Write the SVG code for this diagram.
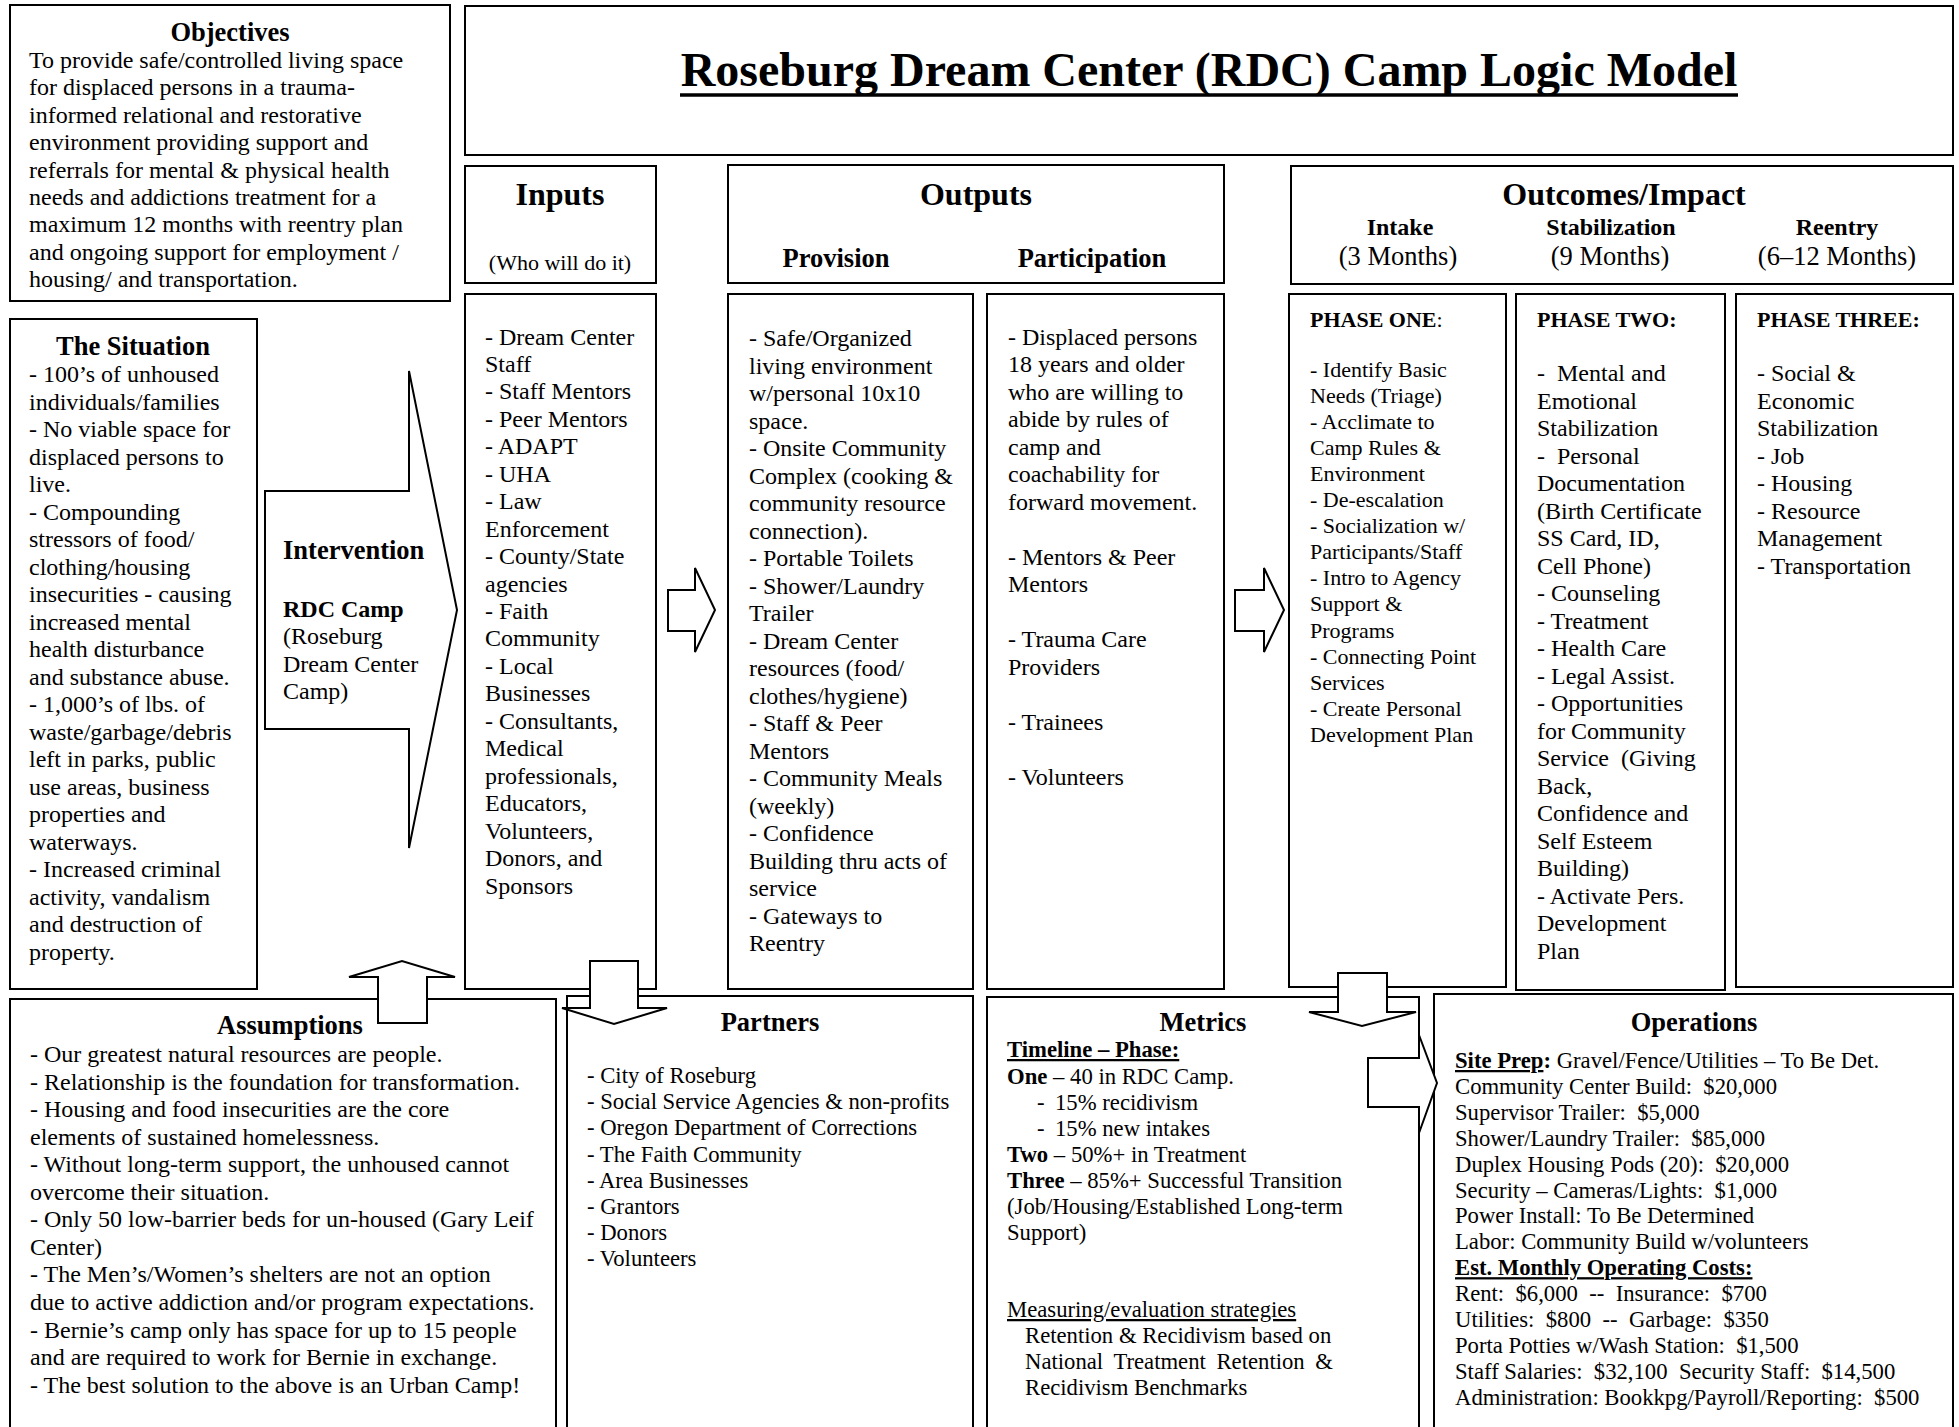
<svg xmlns="http://www.w3.org/2000/svg" width="1959" height="1427" viewBox="0 0 1959 1427">
<style>
.box{fill:#fff;stroke:#000;stroke-width:2}
.arr{fill:#fff;stroke:#000;stroke-width:2;stroke-linejoin:miter}
text{font-family:'Liberation Serif','Times New Roman',serif;font-size:24px;fill:#000}
.b{font-weight:bold}
.h{font-weight:bold;font-size:26.5px;text-anchor:middle}
.hh{font-weight:bold;font-size:32px;text-anchor:middle}
.s22{font-size:22px}
.s23{font-size:22.7px}
.m{text-anchor:middle}
.u{text-decoration:underline}
</style>
<rect width="1959" height="1427" fill="#fff"/>

<g id="objectives">
<rect class="box" x="10" y="5" width="440" height="296"/>
<text class="h" x="230" y="41">Objectives</text>
<text y="68"><tspan x="29">To provide safe/controlled living space</tspan><tspan x="29" dy="27.4">for displaced persons in a trauma-</tspan><tspan x="29" dy="27.4">informed relational and restorative</tspan><tspan x="29" dy="27.4">environment providing support and</tspan><tspan x="29" dy="27.4">referrals for mental &amp; physical health</tspan><tspan x="29" dy="27.4">needs and addictions treatment for a</tspan><tspan x="29" dy="27.4">maximum 12 months with reentry plan</tspan><tspan x="29" dy="27.4">and ongoing support for employment /</tspan><tspan x="29" dy="27.4">housing/ and transportation.</tspan></text>
</g>

<g id="title">
<rect class="box" x="465" y="6" width="1488" height="149"/>
<text class="b m" x="1209" y="86" style="font-size:48px">Roseburg Dream Center (RDC) Camp Logic Model</text>
<line x1="680" y1="95" x2="1738" y2="95" stroke="#000" stroke-width="3.5"/>
</g>

<g id="inputs-header">
<rect class="box" x="465" y="166" width="191" height="117"/>
<text class="hh" x="560" y="205">Inputs</text>
<text class="m s22" x="560" y="270">(Who will do it)</text>
</g>

<g id="outputs-header">
<rect class="box" x="728" y="165" width="496" height="118"/>
<text class="hh" x="976" y="205">Outputs</text>
<text class="h" x="836" y="267">Provision</text>
<text class="h" x="1092" y="267">Participation</text>
</g>

<g id="outcomes-header">
<rect class="box" x="1291" y="166" width="662" height="118"/>
<text class="hh" x="1624" y="205">Outcomes/Impact</text>
<text class="b m" x="1400" y="235">Intake</text>
<text class="b m" x="1611" y="235">Stabilization</text>
<text class="b m" x="1837" y="235">Reentry</text>
<text class="m" x="1398" y="265" style="font-size:26.5px">(3 Months)</text>
<text class="m" x="1610" y="265" style="font-size:26.5px">(9 Months)</text>
<text class="m" x="1837" y="265" style="font-size:26.5px">(6–12 Months)</text>
</g>

<g id="situation">
<rect class="box" x="10" y="319" width="247" height="670"/>
<text class="h" x="133" y="355">The Situation</text>
<text y="382"><tspan x="29">- 100’s of unhoused</tspan><tspan x="29" dy="27.5">individuals/families</tspan><tspan x="29" dy="27.5">- No viable space for</tspan><tspan x="29" dy="27.5">displaced persons to</tspan><tspan x="29" dy="27.5">live.</tspan><tspan x="29" dy="27.5">- Compounding</tspan><tspan x="29" dy="27.5">stressors of food/</tspan><tspan x="29" dy="27.5">clothing/housing</tspan><tspan x="29" dy="27.5">insecurities - causing</tspan><tspan x="29" dy="27.5">increased mental</tspan><tspan x="29" dy="27.5">health disturbance</tspan><tspan x="29" dy="27.5">and substance abuse.</tspan><tspan x="29" dy="27.5">- 1,000’s of lbs. of</tspan><tspan x="29" dy="27.5">waste/garbage/debris</tspan><tspan x="29" dy="27.5">left in parks, public</tspan><tspan x="29" dy="27.5">use areas, business</tspan><tspan x="29" dy="27.5">properties and</tspan><tspan x="29" dy="27.5">waterways.</tspan><tspan x="29" dy="27.5">- Increased criminal</tspan><tspan x="29" dy="27.5">activity, vandalism</tspan><tspan x="29" dy="27.5">and destruction of</tspan><tspan x="29" dy="27.5">property.</tspan></text>
</g>

<g id="inputs">
<rect class="box" x="465" y="294" width="191" height="695"/>
<text y="344.5"><tspan x="485">- Dream Center</tspan><tspan x="485" dy="27.45">Staff</tspan><tspan x="485" dy="27.45">- Staff Mentors</tspan><tspan x="485" dy="27.45">- Peer Mentors</tspan><tspan x="485" dy="27.45">- ADAPT</tspan><tspan x="485" dy="27.45">- UHA</tspan><tspan x="485" dy="27.45">- Law</tspan><tspan x="485" dy="27.45">Enforcement</tspan><tspan x="485" dy="27.45">- County/State</tspan><tspan x="485" dy="27.45">agencies</tspan><tspan x="485" dy="27.45">- Faith</tspan><tspan x="485" dy="27.45">Community</tspan><tspan x="485" dy="27.45">- Local</tspan><tspan x="485" dy="27.45">Businesses</tspan><tspan x="485" dy="27.45">- Consultants,</tspan><tspan x="485" dy="27.45">Medical</tspan><tspan x="485" dy="27.45">professionals,</tspan><tspan x="485" dy="27.45">Educators,</tspan><tspan x="485" dy="27.45">Volunteers,</tspan><tspan x="485" dy="27.45">Donors, and</tspan><tspan x="485" dy="27.45">Sponsors</tspan></text>
</g>

<g id="provision">
<rect class="box" x="728" y="294" width="245" height="695"/>
<text y="346"><tspan x="749">- Safe/Organized</tspan><tspan x="749" dy="27.5">living environment</tspan><tspan x="749" dy="27.5">w/personal 10x10</tspan><tspan x="749" dy="27.5">space.</tspan><tspan x="749" dy="27.5">- Onsite Community</tspan><tspan x="749" dy="27.5">Complex (cooking &amp;</tspan><tspan x="749" dy="27.5">community resource</tspan><tspan x="749" dy="27.5">connection).</tspan><tspan x="749" dy="27.5">- Portable Toilets</tspan><tspan x="749" dy="27.5">- Shower/Laundry</tspan><tspan x="749" dy="27.5">Trailer</tspan><tspan x="749" dy="27.5">- Dream Center</tspan><tspan x="749" dy="27.5">resources (food/</tspan><tspan x="749" dy="27.5">clothes/hygiene)</tspan><tspan x="749" dy="27.5">- Staff &amp; Peer</tspan><tspan x="749" dy="27.5">Mentors</tspan><tspan x="749" dy="27.5">- Community Meals</tspan><tspan x="749" dy="27.5">(weekly)</tspan><tspan x="749" dy="27.5">- Confidence</tspan><tspan x="749" dy="27.5">Building thru acts of</tspan><tspan x="749" dy="27.5">service</tspan><tspan x="749" dy="27.5">- Gateways to</tspan><tspan x="749" dy="27.5">Reentry</tspan></text>
</g>

<g id="participation">
<rect class="box" x="987" y="294" width="237" height="695"/>
<text y="344.5"><tspan x="1008">- Displaced persons</tspan><tspan x="1008" dy="27.5">18 years and older</tspan><tspan x="1008" dy="27.5">who are willing to</tspan><tspan x="1008" dy="27.5">abide by rules of</tspan><tspan x="1008" dy="27.5">camp and</tspan><tspan x="1008" dy="27.5">coachability for</tspan><tspan x="1008" dy="27.5">forward movement.</tspan><tspan x="1008" dy="55">- Mentors &amp; Peer</tspan><tspan x="1008" dy="27.5">Mentors</tspan><tspan x="1008" dy="55">- Trauma Care</tspan><tspan x="1008" dy="27.5">Providers</tspan><tspan x="1008" dy="55">- Trainees</tspan><tspan x="1008" dy="55">- Volunteers</tspan></text>
</g>

<g id="phase-one">
<rect class="box" x="1289" y="294" width="217" height="693"/>
<text class="b s22" x="1310" y="326.5">PHASE ONE<tspan style="font-weight:normal">:</tspan></text>
<text class="s22" y="377"><tspan x="1310">- Identify Basic</tspan><tspan x="1310" dy="26.05">Needs (Triage)</tspan><tspan x="1310" dy="26.05">- Acclimate to</tspan><tspan x="1310" dy="26.05">Camp Rules &amp;</tspan><tspan x="1310" dy="26.05">Environment</tspan><tspan x="1310" dy="26.05">- De-escalation</tspan><tspan x="1310" dy="26.05">- Socialization w/</tspan><tspan x="1310" dy="26.05">Participants/Staff</tspan><tspan x="1310" dy="26.05">- Intro to Agency</tspan><tspan x="1310" dy="26.05">Support &amp;</tspan><tspan x="1310" dy="26.05">Programs</tspan><tspan x="1310" dy="26.05">- Connecting Point</tspan><tspan x="1310" dy="26.05">Services</tspan><tspan x="1310" dy="26.05">- Create Personal</tspan><tspan x="1310" dy="26.05">Development Plan</tspan></text>
</g>

<g id="phase-two">
<rect class="box" x="1516" y="294" width="209" height="696"/>
<text class="b s22" x="1537" y="326.5">PHASE TWO:</text>
<text y="381" xml:space="preserve"><tspan x="1537">-  Mental and</tspan><tspan x="1537" dy="27.5">Emotional</tspan><tspan x="1537" dy="27.5">Stabilization</tspan><tspan x="1537" dy="27.5">-  Personal</tspan><tspan x="1537" dy="27.5">Documentation</tspan><tspan x="1537" dy="27.5">(Birth Certificate</tspan><tspan x="1537" dy="27.5">SS Card, ID,</tspan><tspan x="1537" dy="27.5">Cell Phone)</tspan><tspan x="1537" dy="27.5">- Counseling</tspan><tspan x="1537" dy="27.5">- Treatment</tspan><tspan x="1537" dy="27.5">- Health Care</tspan><tspan x="1537" dy="27.5">- Legal Assist.</tspan><tspan x="1537" dy="27.5">- Opportunities</tspan><tspan x="1537" dy="27.5">for Community</tspan><tspan x="1537" dy="27.5">Service  (Giving</tspan><tspan x="1537" dy="27.5">Back,</tspan><tspan x="1537" dy="27.5">Confidence and</tspan><tspan x="1537" dy="27.5">Self Esteem</tspan><tspan x="1537" dy="27.5">Building)</tspan><tspan x="1537" dy="27.5">- Activate Pers.</tspan><tspan x="1537" dy="27.5">Development</tspan><tspan x="1537" dy="27.5">Plan</tspan></text>
</g>

<g id="phase-three">
<rect class="box" x="1736" y="294" width="217" height="693"/>
<text class="b s22" x="1757" y="326.5">PHASE THREE:</text>
<text y="381"><tspan x="1757">- Social &amp;</tspan><tspan x="1757" dy="27.5">Economic</tspan><tspan x="1757" dy="27.5">Stabilization</tspan><tspan x="1757" dy="27.5">- Job</tspan><tspan x="1757" dy="27.5">- Housing</tspan><tspan x="1757" dy="27.5">- Resource</tspan><tspan x="1757" dy="27.5">Management</tspan><tspan x="1757" dy="27.5">- Transportation</tspan></text>
</g>

<g id="assumptions">
<rect class="box" x="10" y="999" width="546" height="450"/>
<text class="h" x="290" y="1034">Assumptions</text>
<text y="1062"><tspan x="30">- Our greatest natural resources are people.</tspan><tspan x="30" dy="27.55">- Relationship is the foundation for transformation.</tspan><tspan x="30" dy="27.55">- Housing and food insecurities are the core</tspan><tspan x="30" dy="27.55">elements of sustained homelessness.</tspan><tspan x="30" dy="27.55">- Without long-term support, the unhoused cannot</tspan><tspan x="30" dy="27.55">overcome their situation.</tspan><tspan x="30" dy="27.55">- Only 50 low-barrier beds for un-housed (Gary Leif</tspan><tspan x="30" dy="27.55">Center)</tspan><tspan x="30" dy="27.55">- The Men’s/Women’s shelters are not an option</tspan><tspan x="30" dy="27.55">due to active addiction and/or program expectations.</tspan><tspan x="30" dy="27.55">- Bernie’s camp only has space for up to 15 people</tspan><tspan x="30" dy="27.55">and are required to work for Bernie in exchange.</tspan><tspan x="30" dy="27.55">- The best solution to the above is an Urban Camp!</tspan></text>
</g>

<g id="partners">
<rect class="box" x="567" y="996" width="406" height="450"/>
<text class="h" x="770" y="1031">Partners</text>
<text class="s23" y="1083"><tspan x="587">- City of Roseburg</tspan><tspan x="587" dy="26.2">- Social Service Agencies &amp; non-profits</tspan><tspan x="587" dy="26.2">- Oregon Department of Corrections</tspan><tspan x="587" dy="26.2">- The Faith Community</tspan><tspan x="587" dy="26.2">- Area Businesses</tspan><tspan x="587" dy="26.2">- Grantors</tspan><tspan x="587" dy="26.2">- Donors</tspan><tspan x="587" dy="26.2">- Volunteers</tspan></text>
</g>

<g id="metrics">
<rect class="box" x="987" y="997" width="432" height="450"/>
<text class="h" x="1203" y="1031">Metrics</text>
<text class="s23 b u" x="1007" y="1057">Timeline – Phase:</text>
<text class="s23" x="1007" y="1084"><tspan class="b">One</tspan> – 40 in RDC Camp.</text>
<text class="s23" x="1037" y="1110">-</text>
<text class="s23" x="1055" y="1110">15% recidivism</text>
<text class="s23" x="1037" y="1136">-</text>
<text class="s23" x="1055" y="1136">15% new intakes</text>
<text class="s23" x="1007" y="1162"><tspan class="b">Two</tspan> – 50%+ in Treatment</text>
<text class="s23" x="1007" y="1188"><tspan class="b">Three</tspan> – 85%+ Successful Transition</text>
<text class="s23" x="1007" y="1214">(Job/Housing/Established Long-term</text>
<text class="s23" x="1007" y="1240">Support)</text>
<text class="s23 u" x="1007" y="1317">Measuring/evaluation strategies</text>
<text class="s23" x="1025" y="1343">Retention &amp; Recidivism based on</text>
<text class="s23" x="1025" y="1369" style="word-spacing:5px">National Treatment Retention &amp;</text>
<text class="s23" x="1025" y="1395">Recidivism Benchmarks</text>
</g>

<g id="operations">
<rect class="box" x="1434" y="994" width="519" height="450"/>
<text class="h" x="1694" y="1031">Operations</text>
<text class="s23" y="1068" xml:space="preserve"><tspan x="1455"><tspan class="b u">Site Prep</tspan><tspan class="b">:</tspan> Gravel/Fence/Utilities – To Be Det.</tspan><tspan x="1455" dy="25.9">Community Center Build:  $20,000</tspan><tspan x="1455" dy="25.9">Supervisor Trailer:  $5,000</tspan><tspan x="1455" dy="25.9">Shower/Laundry Trailer:  $85,000</tspan><tspan x="1455" dy="25.9">Duplex Housing Pods (20):  $20,000</tspan><tspan x="1455" dy="25.9">Security – Cameras/Lights:  $1,000</tspan><tspan x="1455" dy="25.9">Power Install: To Be Determined</tspan><tspan x="1455" dy="25.9">Labor: Community Build w/volunteers</tspan><tspan x="1455" dy="25.9" class="b u">Est. Monthly Operating Costs:</tspan><tspan x="1455" dy="25.9">Rent:  $6,000  --  Insurance:  $700</tspan><tspan x="1455" dy="25.9">Utilities:  $800  --  Garbage:  $350</tspan><tspan x="1455" dy="25.9">Porta Potties w/Wash Station:  $1,500</tspan><tspan x="1455" dy="25.9">Staff Salaries:  $32,100  Security Staff:  $14,500</tspan><tspan x="1455" dy="25.9">Administration: Bookkpg/Payroll/Reporting:  $500</tspan></text>
</g>

<g id="connectors">
<polygon id="intervention-arrow" class="arr" points="265,491 409,491 409,371 457,610 409,848 409,729 265,729"/>
<polygon class="arr" points="668,590 695,590 695,568 715,610 695,652 695,631 668,631"/>
<polygon class="arr" points="1235,590 1264,590 1264,568 1284,610 1264,652 1264,631 1235,631"/>
<polygon class="arr" points="378,1023 378,977 349,977 402,961 455,977 427,977 427,1023"/>
<polygon class="arr" points="590,961 638,961 638,1008 667,1008 614,1024 562,1008 590,1008"/>
<polygon class="arr" points="1338,973 1387,973 1387,1012 1416,1012 1362,1026 1309,1012 1338,1012"/>
<polygon class="arr" points="1368,1058 1419,1058 1419,1035 1437,1083 1419,1133 1419,1107 1368,1107"/>
</g>
<g id="intervention">
<text class="h" x="283" y="559" style="text-anchor:start">Intervention</text>
<text class="b" x="283" y="617">RDC Camp</text>
<text y="644.3"><tspan x="283">(Roseburg</tspan><tspan x="283" dy="27.3">Dream Center</tspan><tspan x="283" dy="27.3">Camp)</tspan></text>
</g>
</svg>
